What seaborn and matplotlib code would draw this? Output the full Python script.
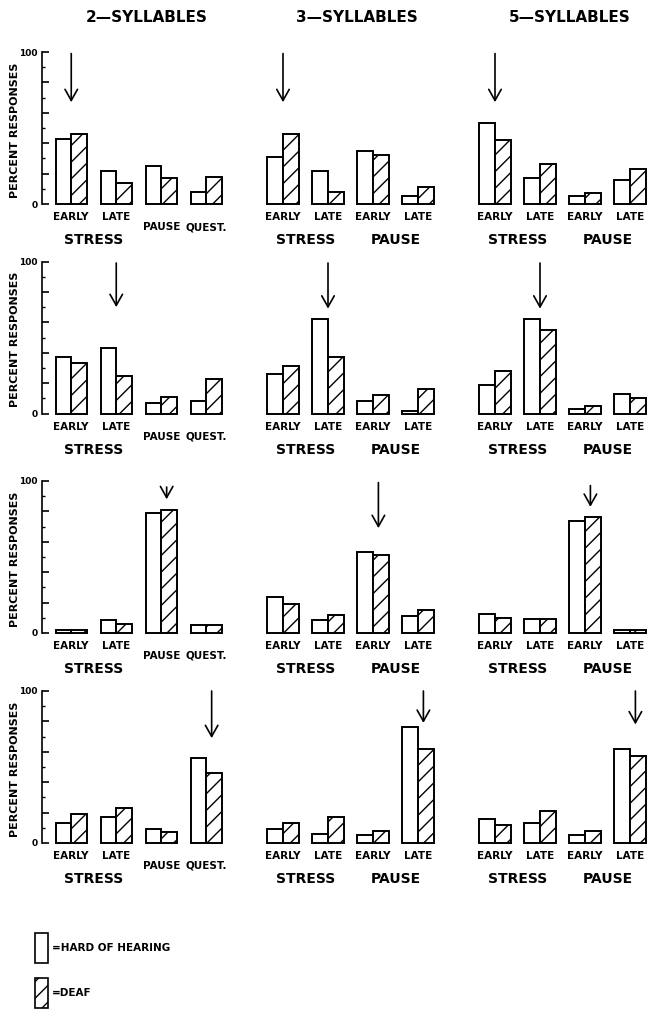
import matplotlib
matplotlib.use("Agg")
import matplotlib.pyplot as plt
from matplotlib.patches import Patch
import numpy as np
import pandas as pd
import seaborn as sns

# ---------------------------------------------------------------------------
# Data: percent responses, hard-of-hearing vs deaf listeners.
# Each list holds 3 panels x 4 response categories (2-, 3-, 5-syllable items).
# ---------------------------------------------------------------------------
titles = ["2\u2014SYLLABLES", "3\u2014SYLLABLES", "5\u2014SYLLABLES"]

keys_2 = ["S-EARLY", "S-LATE", "PAUSE", "QUEST"]
keys_35 = ["S-EARLY", "S-LATE", "P-EARLY", "P-LATE"]
ticklabels_2 = ["EARLY", "LATE", "PAUSE", "QUEST."]
ticklabels_35 = ["EARLY", "LATE", "EARLY", "LATE"]

# row 1: early stress intended
hoh_r1 = [43, 22, 25, 8, 31, 22, 35, 5, 53, 17, 5, 16]
deaf_r1 = [46, 14, 17, 18, 46, 8, 32, 11, 42, 26, 7, 23]
# row 2: late stress intended
hoh_r2 = [37, 43, 7, 8, 26, 62, 8, 1.5, 19, 62, 3, 13]
deaf_r2 = [33, 25, 11, 23, 31, 37, 12, 16, 28, 55, 5, 10]
# row 3: pause / early pause intended
hoh_r3 = [2, 8.5, 79, 5.5, 24, 8.5, 53, 11, 12.5, 9, 74, 2]
deaf_r3 = [2, 6, 81, 5, 19, 12, 51, 15, 10, 9, 76, 2]
# row 4: question / late pause intended
hoh_r4 = [13, 17, 9.5, 56, 9, 6, 5, 76, 16, 13, 5.5, 62]
deaf_r4 = [19, 23, 7, 46, 13, 17, 8, 62, 12, 21, 8, 57]

hoh_rows = [hoh_r1, hoh_r2, hoh_r3, hoh_r4]
deaf_rows = [deaf_r1, deaf_r2, deaf_r3, deaf_r4]

# arrow marking the intended category of each row
arrow_target = [0, 1, 2, 3]
arrow_top = [[99, 99, 99], [99, 99, 99], [96, 99, 97], [100, 100, 100]]
arrow_tip = [[67, 67, 67], [70, 69, 69], [88, 69, 83], [69, 79, 78]]
arrow_dx = [0.0, 0.0, 0.12, 0.12]

# ---------------------------------------------------------------------------
sns.set_theme(style="white")
plt.rcParams["font.family"] = ["DejaVu Sans"]
plt.rcParams["hatch.linewidth"] = 1.0
plt.rcParams["hatch.color"] = "black"
plt.rcParams["text.color"] = "black"
plt.rcParams["axes.labelcolor"] = "black"
plt.rcParams["xtick.color"] = "black"
plt.rcParams["ytick.color"] = "black"

W, H = 653, 1011
fig = plt.figure(figsize=(W / 100, H / 100), dpi=100)
fig.patch.set_facecolor("white")

baselines = [204, 413.5, 633, 843]
col_left = [42, 253.75, 465.75]
ax_w, ax_h = 186.75, 152
XMIN, XMAX = -0.65, 3.5
EDGE_LW = 1.4

for r in range(4):
    for c in range(3):
        keys = keys_2 if c == 0 else keys_35
        hoh = hoh_rows[r][4 * c:4 * c + 4]
        deaf = deaf_rows[r][4 * c:4 * c + 4]
        df = pd.DataFrame({
            "cat": keys + keys,
            "group": ["HoH"] * 4 + ["Deaf"] * 4,
            "pct": hoh + deaf,
        })
        ax = fig.add_axes([col_left[c] / W, (H - baselines[r]) / H, ax_w / W, ax_h / H])
        sns.barplot(data=df, x="cat", y="pct", hue="group", order=keys,
                    hue_order=["HoH", "Deaf"], palette=["white", "white"],
                    saturation=1, edgecolor="black", linewidth=EDGE_LW,
                    width=0.69, gap=0, legend=False, errorbar=None, ax=ax)
        for bar in ax.containers[1]:
            bar.set_hatch("//")
        for cont in ax.containers:
            for bar in cont:
                bar.set_clip_on(False)

        ax.set_xlim(XMIN, XMAX)
        ax.set_ylim(0, 100)
        ax.set_xlabel("")
        ax.set_ylabel("")
        ax.set_xticks([])
        ax.patch.set_alpha(0)
        for s in ["top", "right", "bottom"]:
            ax.spines[s].set_visible(False)

        if c == 0:
            ax.spines["left"].set_visible(True)
            ax.spines["left"].set_linewidth(1.2)
            ax.spines["left"].set_color("black")
            ax.set_yticks([0, 20, 40, 60, 80, 100])
            ax.set_yticks([10, 30, 50, 70, 90], minor=True)
            ax.set_yticklabels(["0", "", "", "", "", "100"],
                               fontsize=6.5, fontweight="bold")
            ax.tick_params(axis="y", which="major", direction="in", length=5,
                           width=1.2, pad=3, colors="black", left=True)
            ax.tick_params(axis="y", which="minor", direction="in", length=2.5,
                           width=1.0, left=True)
            fig.text(15 / W, (H - (baselines[r] - 74)) / H, "PERCENT RESPONSES",
                     rotation=90, ha="center", va="center", fontsize=8,
                     fontweight="bold")
        else:
            ax.spines["left"].set_visible(False)
            ax.set_yticks([])

        # category labels under the bars
        labels = ticklabels_2 if c == 0 else ticklabels_35
        for i, lab in enumerate(labels):
            off = 23 if (c == 0 and i >= 2) else 13
            ax.annotate(lab, xy=(i, 0), xycoords="data", xytext=(0, -off),
                        textcoords="offset pixels", ha="center", va="center",
                        fontsize=7.5, fontweight="bold", annotation_clip=False)
        ax.annotate("STRESS", xy=(0.5, 0), xycoords="data", xytext=(0, -36),
                    textcoords="offset pixels", ha="center", va="center",
                    fontsize=10, fontweight="bold", annotation_clip=False)
        if c > 0:
            ax.annotate("PAUSE", xy=(2.5, 0), xycoords="data", xytext=(0, -36),
                        textcoords="offset pixels", ha="center", va="center",
                        fontsize=10, fontweight="bold", annotation_clip=False)

        # arrow pointing at the intended category
        xa = arrow_target[r] + arrow_dx[r]
        ax.annotate("", xy=(xa, arrow_tip[r][c]), xytext=(xa, arrow_top[r][c]),
                    xycoords="data", textcoords="data",
                    arrowprops=dict(arrowstyle="->,head_length=0.8,head_width=0.45",
                                    lw=1.2, color="black", shrinkA=0, shrinkB=0,
                                    mutation_scale=10),
                    annotation_clip=False)

# column titles
for x, t in zip([147, 357, 570], titles):
    fig.text(x / W, 1 - 18 / H, t, ha="center", va="center", fontsize=11,
             fontweight="bold")

# legend
handles = [
    Patch(facecolor="white", edgecolor="black", linewidth=1.2,
          label="=HARD OF HEARING"),
    Patch(facecolor="white", edgecolor="black", linewidth=1.2, hatch="//",
          label="=DEAF"),
]
fig.legend(handles=handles, loc="lower left", bbox_to_anchor=(35 / W, 3 / H),
           frameon=False, handlelength=1.2, handleheight=4.0, labelspacing=1.5,
           handletextpad=0.4, borderpad=0, borderaxespad=0,
           prop={"size": 7.5, "weight": "bold"})

fig.savefig("out.png", dpi=100)
